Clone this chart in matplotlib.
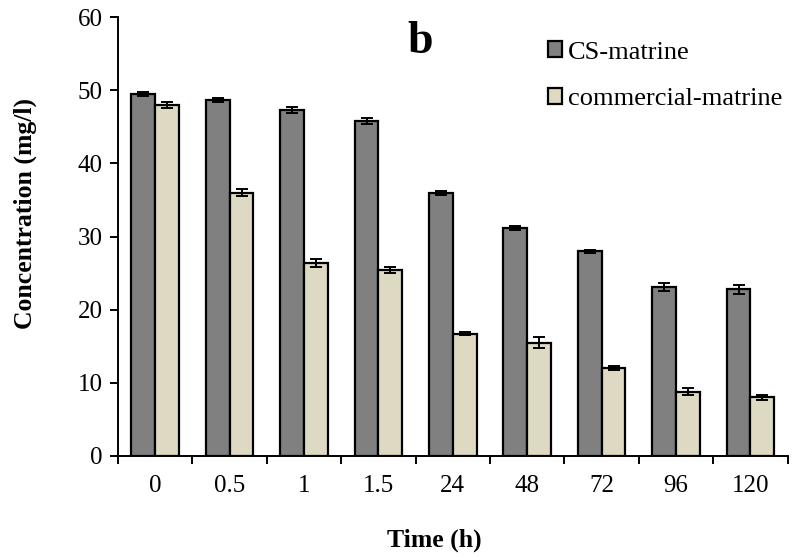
import matplotlib
matplotlib.use("Agg")
import matplotlib.pyplot as plt
import numpy as np

plt.rcParams['font.family'] = ['Liberation Serif', 'DejaVu Serif']

times = ['0', '0.5', '1', '1.5', '24', '48', '72', '96', '120']
cs_matrine = [49.5, 48.7, 47.3, 45.8, 36.0, 31.2, 28.0, 23.1, 22.8]
cs_err = [0.3, 0.3, 0.4, 0.4, 0.3, 0.3, 0.2, 0.6, 0.6]
commercial = [48.0, 36.0, 26.4, 25.4, 16.7, 15.5, 12.0, 8.8, 8.0]
commercial_err = [0.4, 0.5, 0.5, 0.4, 0.2, 0.7, 0.3, 0.5, 0.3]

fig = plt.figure(figsize=(7.94, 5.56), dpi=100)
ax = fig.add_axes([0.1486, 0.18, 0.8434, 0.789])

x = np.arange(len(times))
w = 0.32
err_kw = dict(ecolor='black', capsize=4.5, elinewidth=1.4, capthick=1.4)
ax.bar(x - w / 2, cs_matrine, w, yerr=cs_err, color='#808080', edgecolor='black',
       linewidth=1.6, label='CS-matrine', error_kw=err_kw)
ax.bar(x + w / 2, commercial, w, yerr=commercial_err, color='#ddd9c3', edgecolor='black',
       linewidth=1.6, label='commercial-matrine', error_kw=err_kw)

ax.set_xlim(-0.5, len(times) - 0.5)
ax.set_ylim(0, 60)
ax.set_yticks(range(0, 61, 10))
ax.set_xticks(x)
ax.set_xticklabels(times)
ax.set_xticks(np.arange(-0.5, len(times), 1.0), minor=True)
ax.tick_params(axis='x', which='major', length=0, pad=14, labelsize=18)
ax.tick_params(axis='x', which='minor', length=6, width=1.4, direction='out')
ax.tick_params(axis='y', length=6, width=1.4, direction='out', labelsize=18, pad=5)

for side in ['top', 'right']:
    ax.spines[side].set_visible(False)
for side in ['left', 'bottom']:
    ax.spines[side].set_linewidth(1.4)

ax.set_ylabel('Concentration (mg/l)', fontsize=18.5, fontweight='bold')
ax.yaxis.set_label_coords(-0.121, 0.553)
ax.set_xlabel('Time (h)', fontsize=18.5, fontweight='bold')
ax.xaxis.set_label_coords(0.473, -0.165)
ax.text(0.451, 0.918, 'b', transform=ax.transAxes, fontsize=33, fontweight='bold',
        ha='center', va='baseline')

ax.legend(loc='upper left', bbox_to_anchor=(0.642, 0.945), frameon=False, fontsize=19,
          borderpad=0, borderaxespad=0, handlelength=0.55, handleheight=0.55,
          handletextpad=0.2, labelspacing=0.93)

fig.savefig('out.png', dpi=100)
